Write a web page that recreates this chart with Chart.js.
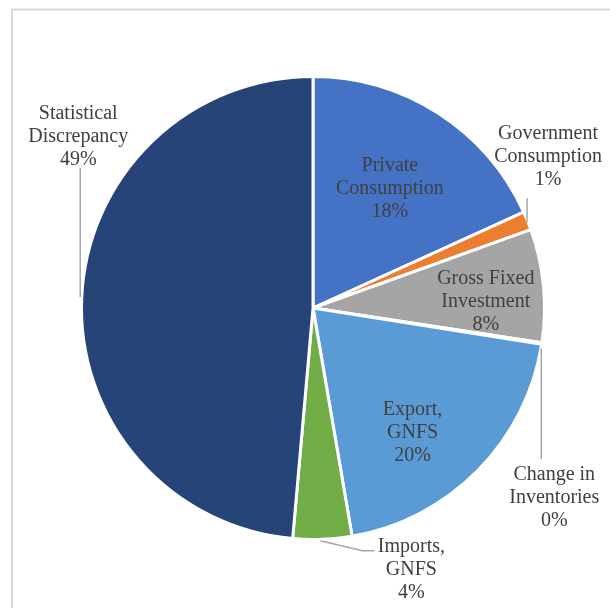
<!DOCTYPE html>
<html>
<head>
<meta charset="utf-8">
<script src="https://cdn.jsdelivr.net/npm/chart.js@4/dist/chart.umd.min.js"></script>
<style>
  html, body { margin: 0; padding: 0; background: #fff; }
  #wrap { width: 610px; height: 608px; }
</style>
</head>
<body>
<div id="wrap"><canvas id="myChart"></canvas></div>
<script>
'use strict';

/* DATA */

const categories = [
  ['Private', 'Consumption'],
  ['Government', 'Consumption'],
  ['Gross Fixed', 'Investment'],
  ['Change in', 'Inventories'],
  ['Export,', 'GNFS'],
  ['Imports,', 'GNFS'],
  ['Statistical', 'Discrepancy']
];
const shares = [18.2, 1.3, 7.9, 0.1, 19.8, 4.1, 48.6];
const colors = ['#4472C4', '#ED7D31', '#A5A5A5', '#FFC000', '#5B9BD5', '#70AD47', '#264478'];

/* LABEL LAYOUT */

// inside: angle shift (deg) from slice middle + distance as share of radius
// outside: leader points and text anchor as px offsets from the slice's edge point
const labelLayout = [
  { inside: true, shift: -0.3, dist: 0.623 },
  { leader: [[1, 1], [1, -23]], text: [22, -82] },
  { inside: true, shift: 3.0, dist: 0.752 },
  { leader: [[1, 5], [1, 116]], text: [14, 137] },
  { inside: true, shift: 6.5, dist: 0.69 },
  { leader: [[-2, 3], [40, 13], [52, 13]], text: [89, 14] },
  { leader: [[-3, -1], [-3, -130]], text: [-5, -179] }
];

const total = shares.reduce(function(a, b) { return a + b; }, 0);

const framePlugin = {
  id: 'frame',
  beforeDraw: function(chart) {
    const c = chart.ctx;
    c.save();
    c.strokeStyle = '#d9d9d9';
    c.lineWidth = 2;
    c.strokeRect(12, 9.5, 800, 800);
    c.restore();
  }
};

const labelPlugin = {
  id: 'pieLabels',
  afterDraw: function(chart) {
    const c = chart.ctx;
    const arcs = chart.getDatasetMeta(0).data;
    c.save();
    c.font = '20px "Liberation Serif", "Times New Roman", serif';
    c.fillStyle = '#404040';
    c.textAlign = 'center';
    c.textBaseline = 'alphabetic';
    arcs.forEach(function(arc, i) {
      const lay = labelLayout[i];
      const lines = categories[i].concat([Math.round(shares[i] / total * 100) + '%']);
      const mid = (arc.startAngle + arc.endAngle) / 2;
      const r = arc.outerRadius - 1.5;
      if (lay.inside) {
        const a = mid + lay.shift * Math.PI / 180;
        const x = arc.x + Math.cos(a) * r * lay.dist;
        const y = arc.y + Math.sin(a) * r * lay.dist;
        lines.forEach(function(t, k) {
          c.fillText(t, x, y + 6.5 + (k - 1) * 23);
        });
      } else {
        const ex = arc.x + Math.cos(mid) * r;
        const ey = arc.y + Math.sin(mid) * r;
        c.strokeStyle = '#a6a6a6';
        c.lineWidth = 1.5;
        c.beginPath();
        lay.leader.forEach(function(p, k) {
          if (k === 0) c.moveTo(ex + p[0], ey + p[1]);
          else c.lineTo(ex + p[0], ey + p[1]);
        });
        c.stroke();
        lines.forEach(function(t, k) {
          c.fillText(t, ex + lay.text[0], ey + lay.text[1] + k * 23);
        });
      }
    });
    c.restore();
  }
};

const ctx = document.getElementById('myChart').getContext('2d');
const chart = new Chart(ctx, {
  type: 'pie',
  data: {
    labels: categories.map(function(l) { return l.join(' '); }),
    datasets: [{
      data: shares,
      backgroundColor: colors,
      borderColor: '#ffffff',
      borderWidth: 3
    }]
  },
  options: {
    responsive: true,
    maintainAspectRatio: false,
    animation: false,
    layout: { padding: { left: 80, right: 64, top: 75, bottom: 67 } },
    plugins: {
      legend: { display: false },
      tooltip: { enabled: false }
    }
  },
  plugins: [framePlugin, labelPlugin]
});
</script>
</body>
</html>
